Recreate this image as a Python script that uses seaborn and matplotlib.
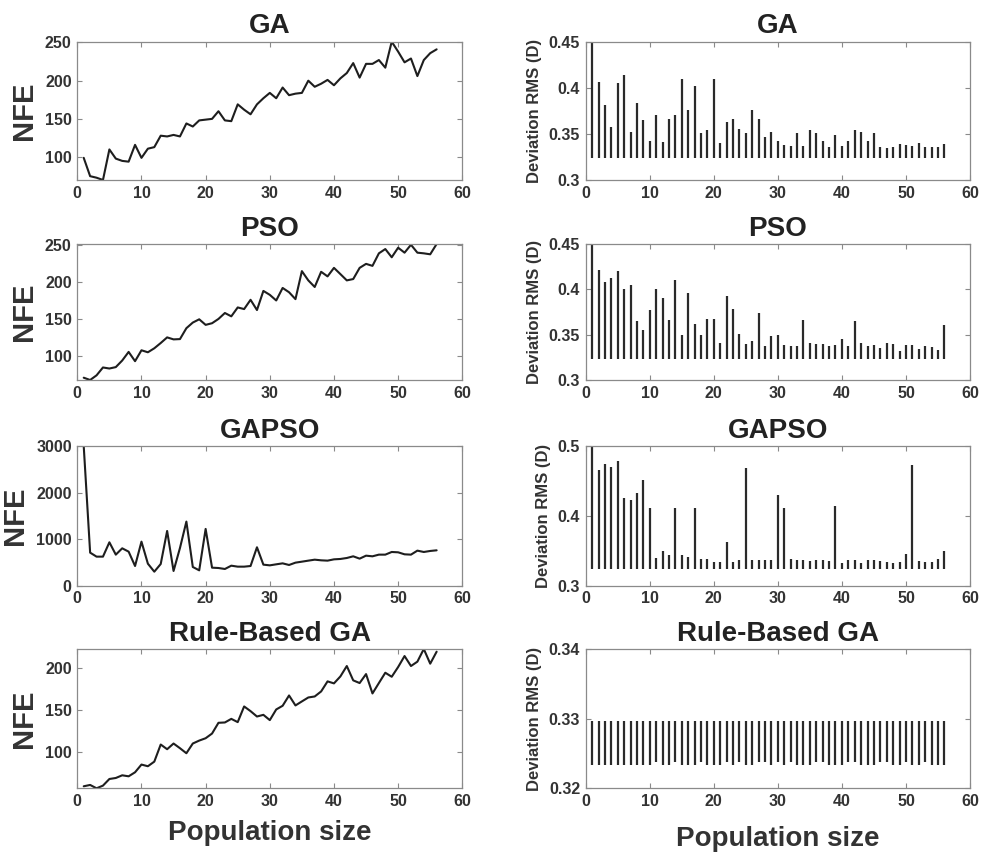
import numpy as np
import pandas as pd
import seaborn as sns
import matplotlib.pyplot as plt
from matplotlib.ticker import FormatStrFormatter

# Population sizes 1..56
pop = list(range(1, 57))

# NFE per population size (left column)
nfe_ga = [99, 75, 73, 70, 110, 98, 95, 94, 116, 99, 111, 113, 128, 127, 129, 127,
          144, 140, 148, 149, 150, 160, 148, 147, 169, 162, 156, 169, 177, 184, 177, 191,
          181, 183, 184, 200, 192, 196, 201, 194, 203, 210, 223, 204, 222, 222, 227, 217,
          251, 238, 224, 229, 206, 227, 236, 241]
nfe_pso = [70.6, 67.5, 73.8, 84.4, 83, 84.9, 93.8, 105.4, 92.9, 107.6, 104.9, 110.3,
           117.4, 125, 122.3, 122.7, 137.4, 145, 149.4, 141.9, 144.1, 149.9, 157.9, 153.4,
           165.4, 163.2, 175.7, 161.9, 187.7, 182.4, 174.8, 191.7, 185.9, 176.6, 214.4,
           201.9, 193, 213.5, 207.3, 218.8, 210.4, 201.9, 203.7, 218.8, 224.2, 221.5,
           238.4, 244.2, 233.1, 246, 239.3, 250, 239.3, 238.4, 237.1, 251]
nfe_gapso = [3000, 710, 624, 624, 932, 667, 803, 731, 423, 946, 473, 301, 466, 1176,
             316, 810, 1377, 402, 330, 1219, 387, 380, 359, 430, 409, 409, 423, 825,
             452, 437, 459, 480, 445, 495, 516, 538, 559, 545, 538, 566, 574, 595, 631,
             581, 645, 631, 667, 667, 724, 717, 674, 667, 753, 724, 746, 760]
nfe_rule = [58.6, 60.2, 56.2, 59.4, 67.3, 68.5, 71.7, 70.5, 75.3, 84.5, 82.5, 88,
            108.4, 102.8, 109.6, 104, 98, 109.6, 113.1, 115.9, 121.5, 134.3, 134.7, 139,
            135.1, 153.8, 148.2, 141.8, 143.8, 137.5, 150.2, 154.6, 166.9, 155, 159.8,
            164.5, 165.7, 171.7, 183.7, 181.3, 189.6, 202, 184.9, 181.7, 192.4, 169.3,
            181.7, 194, 189.2, 200.8, 213.9, 202, 207.2, 222.3, 204.8, 219.1]

# Deviation RMS (D) per population size (right column): stems from low to high
rms_base = 0.3234
rms_ga = [0.46, 0.4066, 0.3816, 0.3573, 0.4055, 0.4142, 0.3523, 0.383, 0.3646, 0.3421,
          0.370, 0.341, 0.3664, 0.370, 0.4098, 0.3762, 0.4019, 0.3508, 0.3544, 0.4091,
          0.3396, 0.3631, 0.3667, 0.3548, 0.3505, 0.3762, 0.3664, 0.3468, 0.3526, 0.3418,
          0.3385, 0.3371, 0.3505, 0.3371, 0.3541, 0.3505, 0.3421, 0.3360, 0.349, 0.3371,
          0.3418, 0.3541, 0.3519, 0.3425, 0.3508, 0.336, 0.3345, 0.3356, 0.3389, 0.3381,
          0.3371, 0.340, 0.336, 0.3353, 0.336, 0.3389]
rms_pso = [0.46, 0.421, 0.408, 0.4127, 0.42, 0.400, 0.4048, 0.3653, 0.3548, 0.3772,
           0.4004, 0.3903, 0.3657, 0.4098, 0.35, 0.3964, 0.362, 0.35, 0.3671, 0.3671,
           0.3407, 0.3928, 0.3787, 0.3504, 0.340, 0.3429, 0.374, 0.337, 0.349, 0.3497,
           0.3381, 0.337, 0.337, 0.3657, 0.3403, 0.3392, 0.340, 0.337, 0.3381, 0.3447,
           0.3378, 0.3653, 0.3403, 0.337, 0.3381, 0.3352, 0.3407, 0.3392, 0.332, 0.3385,
           0.3385, 0.3345, 0.3374, 0.336, 0.3331, 0.3602]
rms_gapso = [0.51, 0.4663, 0.4745, 0.4696, 0.4788, 0.4258, 0.4224, 0.432, 0.4518, 0.4118,
             0.3395, 0.3492, 0.3443, 0.4118, 0.3443, 0.3405, 0.4118, 0.3381, 0.3381,
             0.3337, 0.3337, 0.3631, 0.3337, 0.3361, 0.4687, 0.3361, 0.3361, 0.3361,
             0.3361, 0.4292, 0.4118, 0.3381, 0.3361, 0.3361, 0.3352, 0.3361, 0.3361,
             0.3352, 0.4137, 0.3328, 0.3361, 0.3361, 0.3328, 0.3371, 0.3361, 0.3352,
             0.3337, 0.3318, 0.3337, 0.3453, 0.4735, 0.3352, 0.3337, 0.3337, 0.3381, 0.3496]
rms_rule = [0.3297] * 56
raised = [11, 14, 18, 22, 24, 27, 28, 30, 32, 36, 37, 41, 42, 46, 47, 50, 53]
rms_rule_low = [0.3238 if p in raised else 0.3234 for p in pop]

titles = ['GA', 'PSO', 'GAPSO', 'Rule-Based GA']
nfe_all = [nfe_ga, nfe_pso, nfe_gapso, nfe_rule]
rms_all = [rms_ga, rms_pso, rms_gapso, rms_rule]
rms_low = [[rms_base] * 56, [rms_base] * 56, [rms_base] * 56, rms_rule_low]
rms_ylim = [(0.3, 0.45), (0.3, 0.45), (0.3, 0.5), (0.32, 0.34)]
rms_ticks = [[0.3, 0.35, 0.4, 0.45], [0.3, 0.35, 0.4, 0.45], [0.3, 0.4, 0.5],
             [0.32, 0.33, 0.34]]

sns.set_theme(style="white")
plt.rcParams['font.family'] = ['Liberation Sans', 'DejaVu Sans']
plt.rcParams['font.weight'] = 'bold'

text_col = '#333333'
line_col = '#1e1e1e'

fig = plt.figure(figsize=(9.85, 8.57), dpi=100)

# axes rows in pixels: (top, bottom)
rows = [(41.7, 180), (244, 380), (446, 585.7), (649, 788.3)]
W, H = 985, 857


def style_axes(ax):
    for s in ax.spines.values():
        s.set_color('#8a8a8a')
        s.set_linewidth(0.9)
    ax.tick_params(direction='in', top=True, right=True, length=3.5, width=0.8,
                   color='#8a8a8a', labelsize=11.5, labelcolor=text_col, pad=4,
                   bottom=True, left=True)
    for lab in ax.get_xticklabels() + ax.get_yticklabels():
        lab.set_fontweight('bold')


for i in range(4):
    top, bot = rows[i]
    # left: NFE line
    axl = fig.add_axes([77.3 / W, 1 - bot / H, 385 / W, (bot - top) / H])
    df = pd.DataFrame({'pop': pop, 'nfe': nfe_all[i]})
    sns.lineplot(data=df, x='pop', y='nfe', ax=axl, color=line_col, linewidth=1.5)
    axl.set_xlim(0, 60)
    axl.set_xticks(range(0, 61, 10))
    if titles[i] == 'GAPSO':
        axl.set_ylim(0, 3000)
        axl.set_yticks([0, 1000, 2000, 3000])
    else:
        axl.set_ylim(min(nfe_all[i]), max(nfe_all[i]))
    axl.set_ylabel('NFE', fontsize=21, fontweight='bold', color=text_col, labelpad=5)
    axl.set_title(titles[i], fontsize=20, fontweight='bold', color='#222222', pad=6)
    axl.set_xlabel('')
    style_axes(axl)

    # right: deviation RMS stems
    axr = fig.add_axes([585.7 / W, 1 - bot / H, 384.3 / W, (bot - top) / H])
    axr.vlines(pop, rms_low[i], rms_all[i], colors='#2a2a2a', linewidth=1.6)
    axr.set_xlim(0, 60)
    axr.set_xticks(range(0, 61, 10))
    axr.set_ylim(*rms_ylim[i])
    axr.set_yticks(rms_ticks[i])
    axr.yaxis.set_major_formatter(FormatStrFormatter('%g'))
    axr.set_ylabel('Deviation RMS (D)', fontsize=12, fontweight='bold',
                   color=text_col, labelpad=5)
    axr.set_title(titles[i], fontsize=20, fontweight='bold', color='#222222', pad=6)
    style_axes(axr)

    if i == 3:
        axl.set_xlabel('Population size', fontsize=20, fontweight='bold',
                       color=text_col, labelpad=8)
        axr.set_xlabel('Population size', fontsize=20, fontweight='bold',
                       color=text_col, labelpad=12)

fig.savefig('out.png', dpi=100)
